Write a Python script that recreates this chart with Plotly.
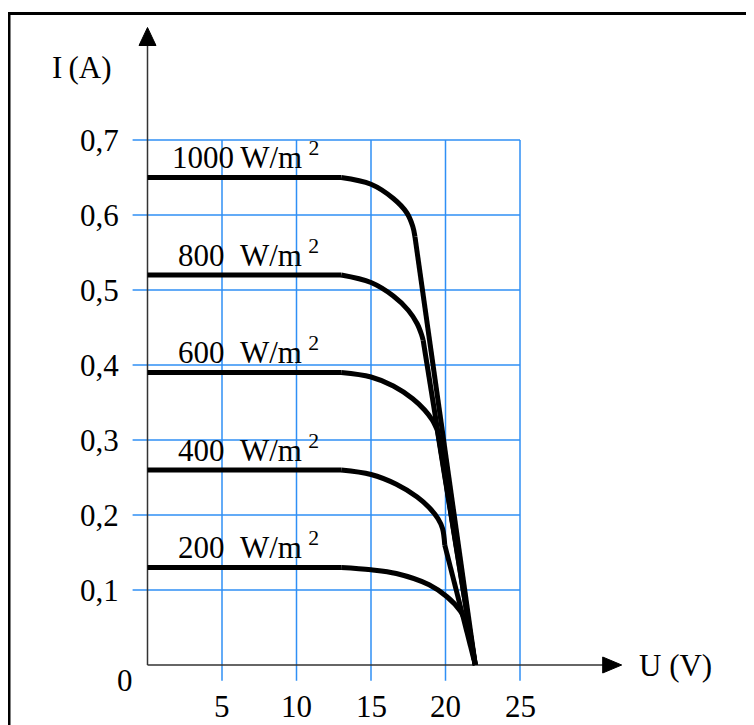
import plotly.graph_objects as go

# ---- data ----
irradiance_labels = ["1000\u2009W/m", "800\u00a0\u00a0W/m", "600\u00a0\u00a0W/m", "400\u00a0\u00a0W/m", "200\u00a0\u00a0W/m"]
label_start_v = [1.5, 1.9, 1.9, 1.9, 1.9]
isc = [0.65, 0.52, 0.39, 0.26, 0.13]
voc = 22.0

v_1000 = [0, 13.0, 15.0, 16.5, 17.4, 17.8, 17.95]
i_1000 = [0.65, 0.65, 0.641, 0.622, 0.603, 0.585, 0.571]
v_800 = [0, 13.0, 15.0, 16.5, 17.5, 18.1, 18.4, 18.5]
i_800 = [0.52, 0.52, 0.51, 0.492, 0.473, 0.455, 0.44, 0.433]
v_600 = [0, 13.0, 15.0, 16.5, 17.8, 18.6, 19.1, 19.45]
i_600 = [0.39, 0.39, 0.384, 0.372, 0.355, 0.34, 0.327, 0.313]
v_400 = [0, 13.0, 15.0, 16.7, 18.1, 18.9, 19.5, 19.8, 19.95]
i_400 = [0.26, 0.26, 0.254, 0.241, 0.224, 0.21, 0.195, 0.182, 0.16]
v_200 = [0, 13.0, 15.0, 16.7, 18.9, 20.1, 21.0, 21.5]
i_200 = [0.13, 0.13, 0.127, 0.122, 0.107, 0.091, 0.072, 0.052]

x_ticks = [5, 10, 15, 20, 25]
x_tick_text = ["5", "10", "15", "20", "25"]
y_ticks = [0.1, 0.2, 0.3, 0.4, 0.5, 0.6, 0.7]
y_tick_text = ["0,1", "0,2", "0,3", "0,4", "0,5", "0,6", "0,7"]

curves_v = [v_1000, v_800, v_600, v_400, v_200]
curves_i = [i_1000, i_800, i_600, i_400, i_200]

FONT = "Liberation Serif"
FS = 31
GRID = "#2f8ff5"

# page offset of the figure (default body margin)
OFF = 8
W, H = 754 - OFF, 725 - OFF
PX_PER_V = 14.9
PX_PER_A = 750.0
X0_PAGE, Y0_PAGE = 147.5, 665.0

fig = go.Figure()
for vv, ii in zip(curves_v, curves_i):
    # flat part (linear)
    fig.add_trace(go.Scatter(x=vv[:2], y=ii[:2], mode="lines",
                             line=dict(color="black", width=5),
                             hoverinfo="skip", showlegend=False))
    # knee (smooth)
    fig.add_trace(go.Scatter(x=vv[1:], y=ii[1:], mode="lines",
                             line=dict(color="black", width=5, shape="spline", smoothing=1.0),
                             hoverinfo="skip", showlegend=False))
    # steep part to open-circuit voltage
    fig.add_trace(go.Scatter(x=[vv[-1], voc], y=[ii[-1], 0], mode="lines",
                             line=dict(color="black", width=5),
                             hoverinfo="skip", showlegend=False))

shapes = []
# grid
for yv in y_ticks:
    shapes.append(dict(type="line", xref="x", yref="y", x0=-1.0, x1=25, y0=yv, y1=yv,
                       line=dict(color=GRID, width=1.5), layer="below"))
for xv in x_ticks:
    shapes.append(dict(type="line", xref="x", yref="y", x0=xv, x1=xv, y0=-0.021, y1=0.7,
                       line=dict(color=GRID, width=1.5), layer="below"))
# axes
shapes.append(dict(type="line", xref="x", yref="y", x0=0, x1=30.6, y0=0, y1=0,
                   line=dict(color="#333", width=1.5), layer="below"))
shapes.append(dict(type="line", xref="x", yref="y", x0=0, x1=0, y0=0, y1=0.83,
                   line=dict(color="#333", width=1.5), layer="below"))
# arrow heads
shapes.append(dict(type="path", xref="x", yref="y", xsizemode="pixel", ysizemode="pixel",
                   xanchor=30.55, yanchor=0, path="M 0 -8 L 19 0 L 0 8 Z",
                   fillcolor="black", line=dict(color="black", width=1)))
shapes.append(dict(type="path", xref="x", yref="y", xsizemode="pixel", ysizemode="pixel",
                   xanchor=0, yanchor=0.826, path="M -8.5 0 L 0 18 L 8.5 0 Z",
                   fillcolor="black", line=dict(color="black", width=1)))
# frame
shapes.append(dict(type="rect", xref="paper", yref="paper", x0=(9 - OFF) / W, x1=1.05,
                   y0=-0.05, y1=1 - (13.5 - OFF) / H, line=dict(color="black", width=3)))

tfont = dict(family=FONT, size=FS, color="black")
annotations = []
for yv, t in zip(y_ticks, y_tick_text):
    annotations.append(dict(x=-1.75, y=yv, xref="x", yref="y", text=t, showarrow=False,
                            xanchor="right", yanchor="middle", font=tfont))
for xv, t in zip(x_ticks, x_tick_text):
    annotations.append(dict(x=xv, y=-0.055, xref="x", yref="y", text=t, showarrow=False,
                            xanchor="center", yanchor="middle", font=tfont))
annotations.append(dict(x=-1.5, y=-0.021, xref="x", yref="y", text="0", showarrow=False,
                        xanchor="center", yanchor="middle", font=tfont))
annotations.append(dict(x=-4.4, y=0.797, xref="x", yref="y", text="I\u2009(A)", showarrow=False,
                        xanchor="center", yanchor="middle", font=tfont))
annotations.append(dict(x=32.85, y=0.0, xref="x", yref="y", text="U (V)", showarrow=False,
                        xanchor="left", yanchor="middle", font=tfont))
for lab, s, xv in zip(irradiance_labels, isc, label_start_v):
    annotations.append(dict(x=xv, y=s + 0.029, xref="x", yref="y",
                            text=lab + "\u2009<sup>2</sup>", showarrow=False,
                            xanchor="left", yanchor="middle", font=tfont))

fig.update_layout(
    width=W, height=H,
    margin=dict(l=0, r=0, t=0, b=0),
    paper_bgcolor="white", plot_bgcolor="white",
    xaxis=dict(range=[(OFF - X0_PAGE) / PX_PER_V, (754 - X0_PAGE) / PX_PER_V],
               visible=False, fixedrange=True),
    yaxis=dict(range=[(Y0_PAGE - 725) / PX_PER_A, (Y0_PAGE - OFF) / PX_PER_A],
               visible=False, fixedrange=True),
    shapes=shapes, annotations=annotations, showlegend=False,
)

fig.write_html("out.html")
